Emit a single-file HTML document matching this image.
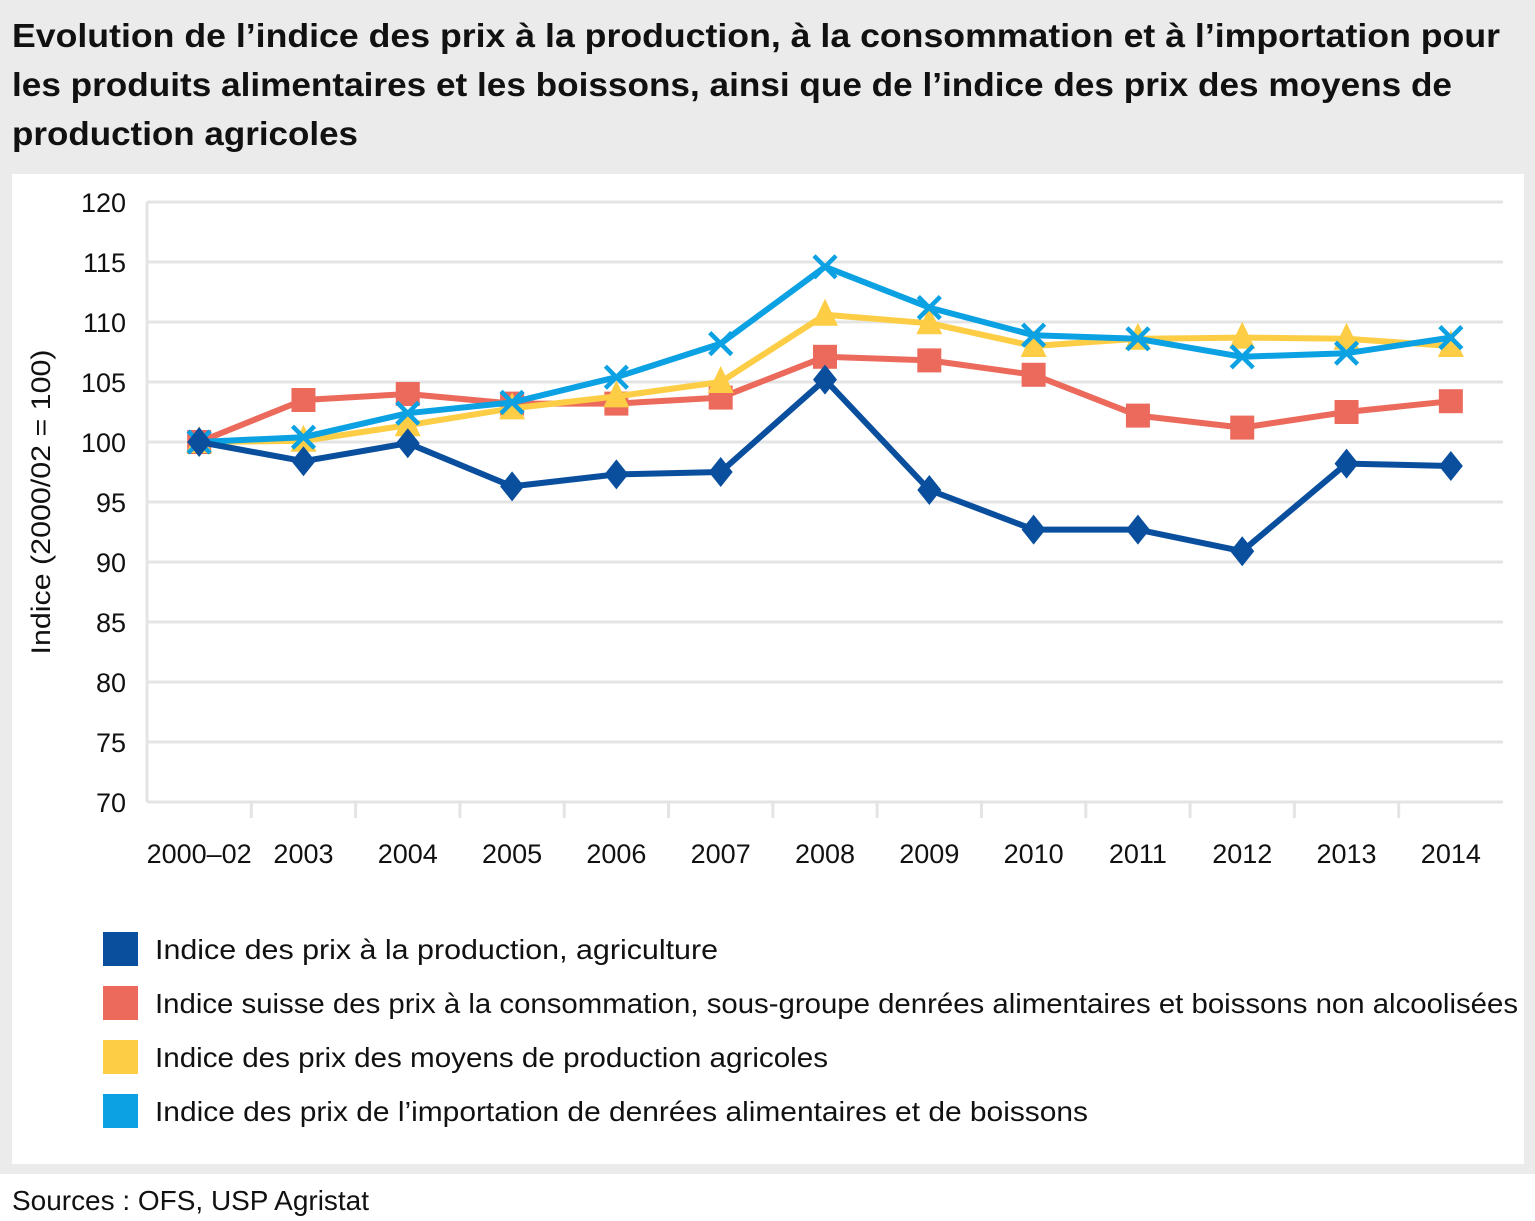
<!DOCTYPE html>
<html><head><meta charset="utf-8">
<style>
html,body{margin:0;padding:0;background:#fff;}
svg{display:block;font-family:"Liberation Sans",sans-serif;}
</style></head>
<body>
<svg id="chart" width="1535" height="1221" viewBox="0 0 1535 1221" xmlns="http://www.w3.org/2000/svg">
<rect x="0" y="0" width="1535" height="1174" fill="#ebebeb"/>
<g font-weight="bold" font-size="33" fill="#111">
<text x="12" y="47" textLength="1488" lengthAdjust="spacingAndGlyphs">Evolution de l’indice des prix à la production, à la consommation et à l’importation pour</text>
<text x="12" y="96" textLength="1440" lengthAdjust="spacingAndGlyphs">les produits alimentaires et les boissons, ainsi que de l’indice des prix des moyens de</text>
<text x="12" y="145" textLength="346" lengthAdjust="spacingAndGlyphs">production agricoles</text>
</g>
<rect x="12" y="174" width="1512" height="990" fill="#fff"/>
<g id="grid"></g>
<g id="yticks" font-size="27" fill="#111" text-anchor="end"></g>
<g id="xticks" font-size="27" fill="#111" text-anchor="middle"></g>
<text transform="translate(50,502) rotate(-90)" font-size="27" fill="#111" text-anchor="middle" textLength="305" lengthAdjust="spacingAndGlyphs">Indice (2000/02 = 100)</text>
<g id="series"></g>
<g id="legend" font-size="28" fill="#111"></g>
<text x="12" y="1210" font-size="28" fill="#111" textLength="357" lengthAdjust="spacingAndGlyphs">Sources : OFS, USP Agristat</text>
</svg>
<script>
const categories = ["2000–02","2003","2004","2005","2006","2007","2008","2009","2010","2011","2012","2013","2014"];
const yTicks = [70,75,80,85,90,95,100,105,110,115,120];
const producerPrices = [100,98.4,99.9,96.3,97.3,97.5,105.2,96.0,92.7,92.7,90.9,98.2,98.0];
const consumerPrices = [100,103.5,104.0,103.2,103.2,103.7,107.1,106.8,105.6,102.2,101.2,102.5,103.4];
const inputPrices = [100,100.1,101.4,102.8,103.8,105.0,110.6,109.9,108.0,108.6,108.7,108.6,108.0];
const importPrices = [100,100.4,102.4,103.3,105.4,108.2,114.6,111.2,108.9,108.6,107.1,107.4,108.7];
const legendLabels = ["Indice des prix à la production, agriculture","Indice suisse des prix à la consommation, sous-groupe denrées alimentaires et boissons non alcoolisées","Indice des prix des moyens de production agricoles","Indice des prix de l’importation de denrées alimentaires et de boissons"];
const legendWidths = [563,1363,673,933];

const NS="http://www.w3.org/2000/svg";
const L=147,R=1503,T=202,B=802,yMin=70,yMax=120;
const band=(R-L)/categories.length;
const xS=i=>L+band*(i+0.5);
const yS=v=>B-(v-yMin)/(yMax-yMin)*(B-T);
function mk(tag,attrs,parent){const e=document.createElementNS(NS,tag);for(const k in attrs)e.setAttribute(k,attrs[k]);parent.appendChild(e);return e;}
const grid=document.getElementById('grid');
yTicks.forEach(v=>{
  const l=mk('line',{x1:L,x2:R,y1:yS(v),y2:yS(v),stroke:'#e4e4e4','stroke-width':3},grid);
  
  
  const t=mk('text',{x:126,y:yS(v)+10},document.getElementById('yticks'));
  t.textContent=v;
  
  
});
const ax=mk('line',{x1:L,x2:L,y1:T,y2:B,stroke:'#e4e4e4','stroke-width':3},grid);


for(let i=1;i<categories.length;i++){
  const tk=mk('line',{x1:L+band*i,x2:L+band*i,y1:B,y2:B+16,stroke:'#e4e4e4','stroke-width':3},grid);
  
  
}
categories.forEach((c,i)=>{
  const t=mk('text',{x:xS(i),y:863},document.getElementById('xticks'));
  t.textContent=c;
  
  
});
const sg=document.getElementById('series');
const cols=['#0a4f9e','#ec6a5c','#fccd45','#0ba1e2'];
const datasets=[producerPrices,consumerPrices,inputPrices,importPrices];
const names=['producer','consumer','inputs','imports'];
const order=[1,2,3,0];
order.forEach(s=>{
  const d=datasets[s],c=cols[s];
  const g=mk('g',{},sg);
  
  
  const p=mk('polyline',{points:d.map((v,i)=>xS(i)+','+yS(v)).join(' '),fill:'none',stroke:c,'stroke-width':6,'stroke-linejoin':'round'},g);
  
  
  d.forEach((v,i)=>{
    const x=xS(i),y=yS(v);let m;
    if(s===0)m=mk('polygon',{points:`${x},${y-15} ${x+12},${y} ${x},${y+15} ${x-12},${y}`,fill:c},g);
    else if(s===1)m=mk('rect',{x:x-12,y:y-12,width:24,height:24,fill:c},g);
    else if(s===2)m=mk('polygon',{points:`${x},${y-16} ${x+13},${y+11} ${x-13},${y+11}`,fill:c},g);
    else m=mk('path',{d:`M${x-11},${y-11}L${x+11},${y+11}M${x+11},${y-11}L${x-11},${y+11}`,stroke:c,'stroke-width':4.5},g);
    
    
  });
});
const lg=document.getElementById('legend');
legendLabels.forEach((lab,i)=>{
  const y=932+i*54;
  const g=mk('g',{},lg);
  
  
  const r=mk('rect',{x:103,y:y,width:35,height:34,fill:cols[i]},g);
  
  
  const t=mk('text',{x:155,y:y+27,textLength:legendWidths[i],lengthAdjust:'spacingAndGlyphs'},g);
  t.textContent=lab;
  
  
});
</script>
</body></html>
